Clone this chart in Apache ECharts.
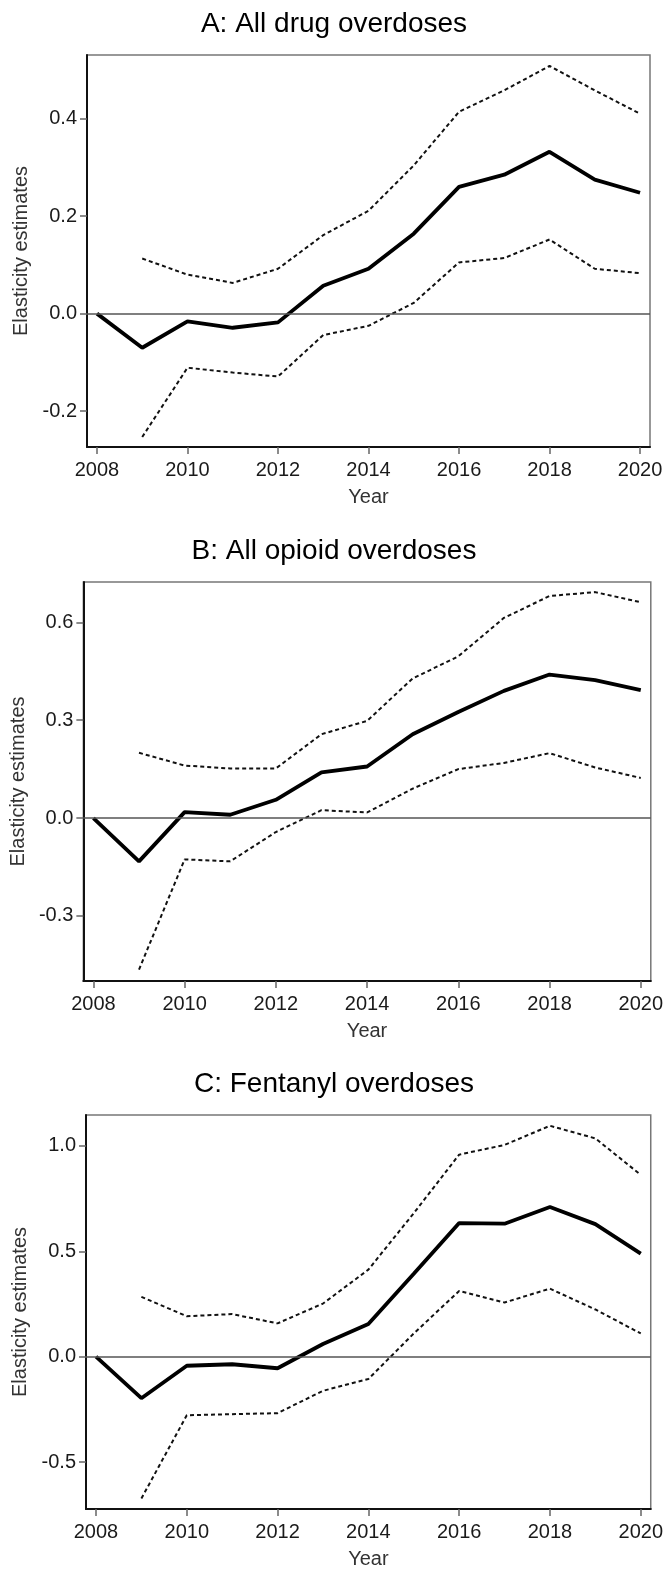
<!DOCTYPE html>
<html>
<head>
<meta charset="utf-8">
<script src="https://cdn.jsdelivr.net/npm/echarts@6/dist/echarts.min.js"></script>
<style>
  html, body { margin: 0; padding: 0; background: #fff; }
  #chart { width: 666px; height: 1571px; }
</style>
</head>
<body>
<div id="chart"></div>
<script>
// Event-study elasticity estimates with 95% confidence bounds, 2008 = reference year.
const years = [2008, 2009, 2010, 2011, 2012, 2013, 2014, 2015, 2016, 2017, 2018, 2019, 2020];
const ciYears = years.slice(1);
const xTicks = [2008, 2010, 2012, 2014, 2016, 2018, 2020];

// Panel A: all drug overdoses
const drugTitle = 'A: All drug overdoses';
const drugEst = [0, -0.070, -0.016, -0.029, -0.018, 0.057, 0.092, 0.164, 0.260, 0.285, 0.332, 0.275, 0.248];
const drugUpper = [0.113, 0.080, 0.063, 0.092, 0.161, 0.211, 0.304, 0.414, 0.458, 0.508, 0.458, 0.410];
const drugLower = [-0.253, -0.111, -0.121, -0.129, -0.044, -0.025, 0.022, 0.105, 0.114, 0.152, 0.092, 0.083];
const drugTicks = [-0.2, 0.0, 0.2, 0.4];

// Panel B: all opioid overdoses
const opioidTitle = 'B: All opioid overdoses';
const opioidEst = [0, -0.133, 0.018, 0.010, 0.056, 0.140, 0.158, 0.257, 0.325, 0.390, 0.440, 0.423, 0.392];
const opioidUpper = [0.200, 0.161, 0.152, 0.152, 0.257, 0.298, 0.428, 0.496, 0.614, 0.681, 0.693, 0.662];
const opioidLower = [-0.465, -0.127, -0.133, -0.043, 0.024, 0.017, 0.090, 0.150, 0.169, 0.199, 0.155, 0.123];
const opioidTicks = [-0.3, 0.0, 0.3, 0.6];

// Panel C: fentanyl overdoses
const fentTitle = 'C: Fentanyl overdoses';
const fentEst = [0, -0.197, -0.043, -0.036, -0.055, 0.060, 0.155, 0.394, 0.634, 0.631, 0.710, 0.629, 0.489];
const fentUpper = [0.284, 0.192, 0.202, 0.158, 0.252, 0.413, 0.681, 0.959, 1.005, 1.096, 1.036, 0.863];
const fentLower = [-0.673, -0.278, -0.273, -0.268, -0.162, -0.106, 0.110, 0.312, 0.257, 0.323, 0.224, 0.110];
const fentTicks = [-0.5, 0.0, 0.5, 1.0];

const FONT = '"Liberation Sans", Arial, Helvetica, sans-serif';

// Layout of each panel's plot region and its value range
const panels = [
  { title: drugTitle, est: drugEst, upper: drugUpper, lower: drugLower, ticks: drugTicks,
    left: 87, right: 16, top: 55, height: 392, yMin: -0.2736, yMax: 0.5305 },
  { title: opioidTitle, est: opioidEst, upper: opioidUpper, lower: opioidLower, ticks: opioidTicks,
    left: 83, right: 9, top: 582, height: 399, yMin: -0.500, yMax: 0.724 },
  { title: fentTitle, est: fentEst, upper: fentUpper, lower: fentLower, ticks: fentTicks,
    left: 86, right: 13, top: 1115, height: 394, yMin: -0.723, yMax: 1.147 }
];

const pair = (xs, ys) => xs.map((x, i) => [x, ys[i]]);

const option = {
  animation: false,
  backgroundColor: '#fff',
  title: [], grid: [], xAxis: [], yAxis: [], series: []
};

panels.forEach((p, i) => {
  option.title.push({
    text: p.title,
    left: 329,
    top: p.top - 50,
    textAlign: 'center',
    textStyle: { fontFamily: FONT, fontSize: 28, fontWeight: 'normal', color: '#000' }
  });
  option.grid.push({
    left: p.left, right: p.right, top: p.top, height: p.height,
    show: true, borderColor: '#777', borderWidth: 1.5, backgroundColor: 'transparent'
  });
  option.xAxis.push({
    type: 'value', gridIndex: i,
    min: 2007.78, max: 2020.22,
    name: 'Year', nameLocation: 'middle', nameGap: 40,
    nameTextStyle: { fontFamily: FONT, fontSize: 20, color: '#333' },
    axisLine: { show: true, onZero: false, lineStyle: { color: '#111', width: 2 } },
    axisTick: { show: true, length: 7, customValues: xTicks, lineStyle: { color: '#666', width: 1.5 } },
    axisLabel: { customValues: xTicks, margin: 13, fontFamily: FONT, fontSize: 20, color: '#1a1a1a',
                 formatter: v => String(Math.round(v)) },
    splitLine: { show: false }
  });
  option.yAxis.push({
    type: 'value', gridIndex: i,
    min: p.yMin, max: p.yMax,
    name: 'Elasticity estimates', nameLocation: 'middle', nameGap: 50,
    nameTextStyle: { fontFamily: FONT, fontSize: 20, color: '#333' },
    axisLine: { show: true, onZero: false, lineStyle: { color: '#111', width: 2 } },
    axisTick: { show: true, length: 7, customValues: p.ticks, lineStyle: { color: '#666', width: 1.5 } },
    axisLabel: { customValues: p.ticks, margin: 10, fontFamily: FONT, fontSize: 20, color: '#1a1a1a',
                 formatter: v => v.toFixed(1) },
    splitLine: { show: false }
  });
  const dotted = { color: '#111', width: 2, type: [4, 3] };
  option.series.push(
    {
      type: 'line', xAxisIndex: i, yAxisIndex: i, name: 'upper',
      data: pair(ciYears, p.upper), showSymbol: false, symbol: 'none',
      lineStyle: dotted, z: 3
    },
    {
      type: 'line', xAxisIndex: i, yAxisIndex: i, name: 'lower',
      data: pair(ciYears, p.lower), showSymbol: false, symbol: 'none',
      lineStyle: dotted, z: 3
    },
    {
      type: 'line', xAxisIndex: i, yAxisIndex: i, name: 'estimate',
      data: pair(years, p.est), showSymbol: false, symbol: 'none',
      lineStyle: { color: '#000', width: 3.8 }, z: 4,
      markLine: {
        silent: true, symbol: 'none', label: { show: false },
        lineStyle: { color: '#555', width: 1.5, type: 'solid' },
        data: [{ yAxis: 0 }]
      }
    }
  );
});

const chart = echarts.init(document.getElementById('chart'), null, { renderer: 'canvas' });
chart.setOption(option);
</script>
</body>
</html>
